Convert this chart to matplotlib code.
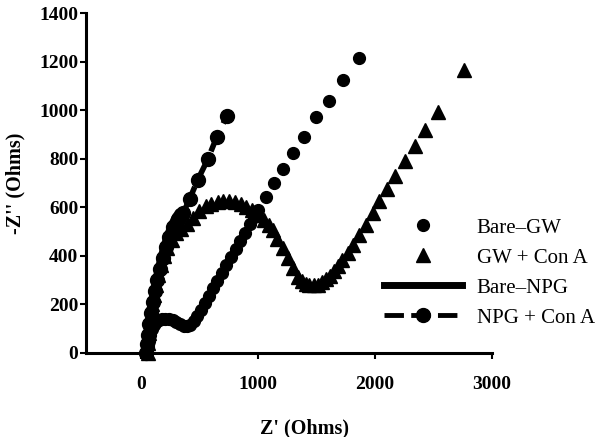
import matplotlib
matplotlib.use("Agg")
import matplotlib.pyplot as plt
from matplotlib.lines import Line2D

# ---------------- data ----------------
bare_gw_x = [50, 58, 68, 80, 95, 112, 132, 155, 180, 208, 238, 270, 302, 335, 365, 392,
             420, 450, 480, 510, 545, 580, 615, 650, 690, 730, 770, 810, 850, 890, 930,
             965, 1000, 1066, 1136, 1215, 1300, 1390, 1493, 1611, 1723, 1862]
bare_gw_y = [0, 25, 50, 75, 97, 115, 128, 136, 140, 141, 139, 134, 127, 119, 112, 110,
             115, 130, 150, 175, 205, 235, 265, 295, 328, 362, 395, 428, 462, 495, 530,
             560, 590, 642, 699, 757, 823, 889, 972, 1038, 1125, 1216]

gw_cona_x = [60, 64, 70, 77, 86, 97, 110, 126, 145, 168, 195, 226, 262, 302, 345, 395,
             445, 500, 553, 600, 655, 700, 750, 800, 853, 900, 950, 1006, 1050, 1090,
             1127, 1166, 1210, 1253, 1296, 1338, 1375, 1410, 1440, 1475, 1510, 1545,
             1580, 1615, 1650, 1685, 1720, 1773, 1816, 1862, 1921, 1981, 2032, 2100,
             2170, 2255, 2340, 2424, 2537, 2760]
gw_cona_y = [0, 40, 80, 120, 160, 200, 240, 280, 320, 360, 398, 433, 465, 492, 512, 530,
             555, 585, 605, 615, 622, 625, 624, 620, 612, 600, 588, 570, 548, 528,
             506, 470, 431, 390, 349, 312, 295, 285, 280, 278, 281, 290,
             302, 318, 336, 358, 382, 411, 444, 485, 526, 576, 625, 676,
             730, 790, 854, 918, 993, 1166]

bare_npg_x = [40, 47, 56, 67, 80, 95, 112, 131, 152, 175, 200, 227, 256, 288, 320]
bare_npg_y = [0, 40, 85, 130, 175, 220, 265, 310, 355, 400, 443, 485, 523, 555, 580]

npg_cona_x = [40, 48, 58, 70, 84, 100, 118, 138, 160, 184, 210, 240, 275, 315, 362,
              415, 483, 570, 647, 733]
npg_cona_y = [0, 35, 75, 120, 165, 210, 255, 300, 345, 390, 435, 478, 518, 550, 578,
              633, 711, 797, 889, 976]

labels = ["Bare\u2013GW", "GW + Con A", "Bare\u2013NPG", "NPG + Con A"]
x_ticks = [0, 1000, 2000, 3000]
y_ticks = [0, 200, 400, 600, 800, 1000, 1200, 1400]

# ---------------- figure ----------------
plt.rcParams['font.family'] = ['Liberation Serif', 'DejaVu Serif']
fig = plt.figure(figsize=(6.02, 4.37), dpi=100)
ax = fig.add_axes([86/602, (437-352.7)/437, (492-86)/602, (352.7-13.3)/437])

ax.plot(bare_npg_x, bare_npg_y, '-', color='black', lw=5, solid_capstyle='round',
        zorder=2, clip_on=False)
ax.plot(npg_cona_x, npg_cona_y, '--', color='black', lw=4, dashes=(4, 1.5),
        marker='o', ms=10, zorder=3, clip_on=False)
ax.plot(bare_gw_x, bare_gw_y, 'o', color='black', ms=8.5, zorder=4, clip_on=False)
ax.plot(gw_cona_x, gw_cona_y, '^', color='black', ms=10, zorder=4, clip_on=False)

ax.set_xlim(-470, 3000)
ax.set_ylim(0, 1400)
ax.set_xticks(x_ticks)
ax.set_yticks(y_ticks)
ax.set_xticklabels([str(v) for v in x_ticks], fontsize=14, fontweight='bold')
ax.set_yticklabels([str(v) for v in y_ticks], fontsize=14, fontweight='bold')
ax.tick_params(axis='x', direction='out', length=4, width=1.5, pad=13)
ax.tick_params(axis='y', direction='out', length=4, width=1.5, pad=1.5)

for s in ['top', 'right']:
    ax.spines[s].set_visible(False)
for s in ['left', 'bottom']:
    ax.spines[s].set_linewidth(2.2)
    ax.spines[s].set_zorder(1)

ax.set_xlabel("Z' (Ohms)", fontsize=14.5, fontweight='bold')
ax.xaxis.set_label_coords((304-86)/406, -(418-352.7)/339.4)
ax.set_ylabel("-Z'' (Ohms)", fontsize=14.5, fontweight='bold')
ax.yaxis.set_label_coords(-(86-25)/406, 0.5)

handles = [
    Line2D([], [], ls='none', marker='o', color='black', ms=8.5),
    Line2D([], [], ls='none', marker='^', color='black', ms=10),
    Line2D([], [], ls='-', color='black', lw=5),
    Line2D([], [], ls='--', dashes=(4, 1.5), color='black', lw=3.5, marker='o', ms=10),
]
leg = fig.legend(handles, labels, loc='upper left',
                 bbox_to_anchor=(384/602, (437-218)/437),
                 frameon=False, fontsize=15, handlelength=3.75, handletextpad=0.7,
                 labelspacing=0.5, borderpad=0, borderaxespad=0, numpoints=1)

fig.savefig("out.png", dpi=100)
